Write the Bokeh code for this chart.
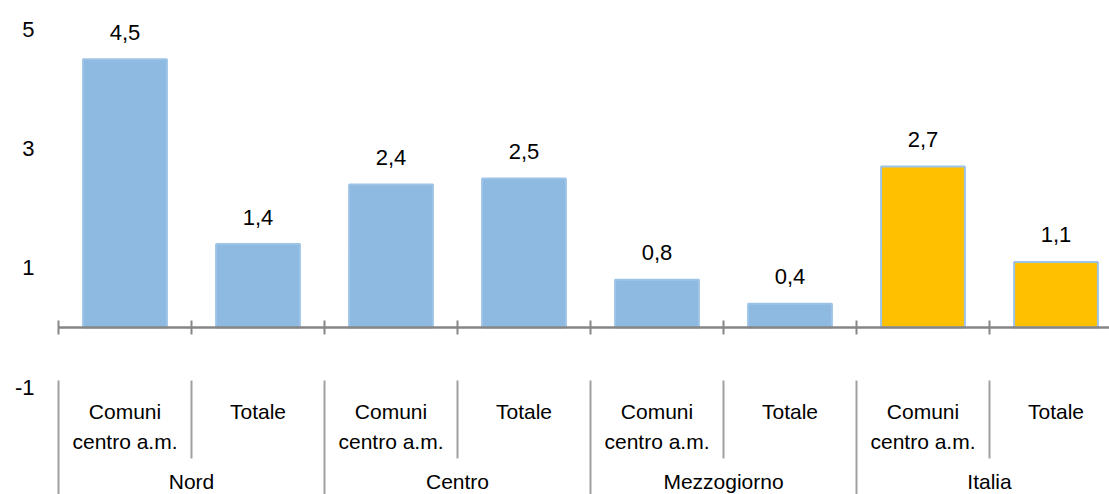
from bokeh.plotting import figure
from bokeh.models import Range1d, FixedTicker, ColumnDataSource
from bokeh.core.properties import value
from bokeh.embed import file_html
from bokeh.resources import INLINE

# ---- data ----
groups = ["Nord", "Centro", "Mezzogiorno", "Italia"]
subcats_line1 = ["Comuni", "Totale"]
subcats_line2 = ["centro a.m.", ""]
values = [4.5, 1.4, 2.4, 2.5, 0.8, 0.4, 2.7, 1.1]
y_ticks = [5, 3, 1, -1]
y_tick_labels = ["5", "3", "1", "-1"]
highlight_group = "Italia"

# ---- layout helpers (page pixels -> data units) ----
W, H = 1109, 494
LEFT_BORDER = 56
PAGE_OFF = 0
AXIS_X0_PAGE = 58.0     # page x of first category edge
CAT_PX = 133.0          # pixels per category
ZERO_PAGE = 327.0       # page y of value 0
UNIT_PX = 59.6          # pixels per value unit


def xd(px):
    return (px - AXIS_X0_PAGE) / CAT_PX


def yd(py):
    return (ZERO_PAGE - py) / UNIT_PX


frame_left = PAGE_OFF + LEFT_BORDER
frame_right = PAGE_OFF + W
frame_top = PAGE_OFF
frame_bottom = PAGE_OFF + H

p = figure(width=W, height=H,
           x_range=Range1d(xd(frame_left), xd(frame_right)),
           y_range=Range1d(yd(frame_bottom), yd(frame_top)),
           output_backend="svg", toolbar_location=None,
           x_axis_location=None,
           min_border_left=LEFT_BORDER, min_border_right=0,
           min_border_top=0, min_border_bottom=0)
p.grid.visible = False
p.outline_line_color = None
p.background_fill_color = "white"
p.border_fill_color = "white"

FONT = value("Liberation Sans")

# y axis
ax = p.yaxis[0]
ax.ticker = FixedTicker(ticks=y_ticks)
ax.major_label_overrides = {t: l for t, l in zip(y_ticks, y_tick_labels)}
ax.axis_line_color = None
ax.major_tick_line_color = None
ax.minor_tick_line_color = None
ax.major_tick_in = 0
ax.major_tick_out = 0
ax.major_label_standoff = int(frame_left - 34)
ax.major_label_text_font = "Liberation Sans"
ax.major_label_text_font_size = "22px"
ax.major_label_text_color = "#000000"

# bars
n = len(values)
centers = [i + 0.5 for i in range(n)]
bar_group = [groups[i // 2] for i in range(n)]
colors = ["#FFC000" if g == highlight_group else "#8EB9E1" for g in bar_group]
labels = [f"{v:.1f}".replace(".", ",") for v in values]
src = ColumnDataSource(dict(x=centers, top=values, color=colors, label=labels))
p.vbar(x="x", top="top", bottom=0, width=0.63, source=src,
       fill_color="color", line_color="#9DC3E6", line_width=2)

# value labels
p.text(x="x", y="top", text="label", source=src, y_offset=-27,
       text_align="center", text_baseline="middle",
       text_font=FONT, text_font_size="22px", text_color="#000000")

# horizontal axis line and ticks
p.segment(x0=[0], y0=[0], x1=[xd(frame_right + 20)], y1=[0],
          line_color="#868686", line_width=2.5)
edges = list(range(n + 1))
p.segment(x0=edges, y0=[yd(320)] * len(edges), x1=edges, y1=[yd(334)] * len(edges),
          line_color="#868686", line_width=2)

# separators in category label area
inner = [e for e in edges if e % 2 == 1]
outer = [e for e in edges if e % 2 == 0]
p.segment(x0=inner, y0=[yd(380)] * len(inner), x1=inner, y1=[yd(458)] * len(inner),
          line_color="#A0A0A0", line_width=2)
p.segment(x0=outer, y0=[yd(380)] * len(outer), x1=outer, y1=[yd(500)] * len(outer),
          line_color="#A0A0A0", line_width=2)

# sub-category labels
l1 = [subcats_line1[i % 2] for i in range(n)]
l2 = [subcats_line2[i % 2] for i in range(n)]
p.text(x=centers, y=[yd(411)] * n, text=l1, text_align="center", text_baseline="middle",
       text_font=FONT, text_font_size="21px", text_color="#000000")
p.text(x=centers, y=[yd(441)] * n, text=l2, text_align="center", text_baseline="middle",
       text_font=FONT, text_font_size="21px", text_color="#000000")

# group labels
gx = [2 * g + 1 for g in range(len(groups))]
p.text(x=gx, y=[yd(481)] * len(groups), text=groups, text_align="center",
       text_baseline="middle", text_font=FONT, text_font_size="21px",
       text_color="#000000")

open("out.html", "w").write(file_html(p, INLINE))
